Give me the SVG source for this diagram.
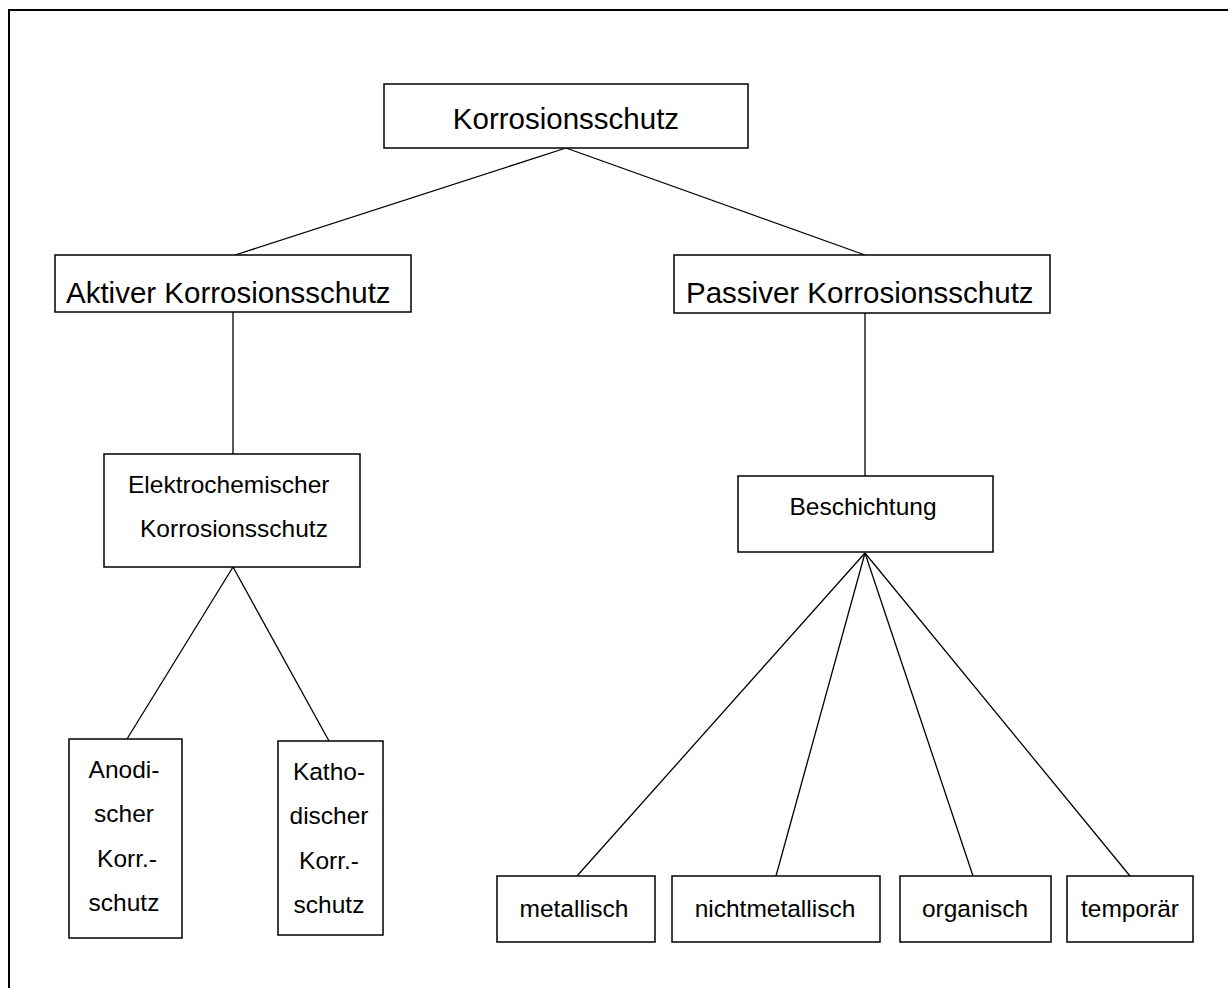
<svg xmlns="http://www.w3.org/2000/svg" width="1228" height="988" viewBox="0 0 1228 988">
<style>
.box{fill:#fff;stroke:#000;stroke-width:1.5}
.lg{font-family:"Liberation Sans",Arial,sans-serif;font-size:29.5px;fill:#000}
.sm{font-family:"Liberation Sans",Arial,sans-serif;font-size:24.5px;fill:#000}
.c{text-anchor:middle}
.ln{stroke:#000;stroke-width:1.3;fill:none}
</style>
<rect x="0" y="0" width="1228" height="988" fill="#fff"/>
<path d="M9 988 V10 H1228" fill="none" stroke="#000" stroke-width="2"/>
<g id="connectors">
<line class="ln" x1="566" y1="148" x2="235" y2="255"/>
<line class="ln" x1="566" y1="148" x2="865" y2="255"/>
<line class="ln" x1="233" y1="312" x2="233" y2="454"/>
<line class="ln" x1="865" y1="313" x2="865" y2="476"/>
<line class="ln" x1="233" y1="567" x2="127" y2="739"/>
<line class="ln" x1="233" y1="567" x2="329" y2="741"/>
<line class="ln" x1="865" y1="553" x2="577" y2="876"/>
<line class="ln" x1="865" y1="553" x2="776" y2="876"/>
<line class="ln" x1="865" y1="553" x2="973" y2="876"/>
<line class="ln" x1="865" y1="553" x2="1130" y2="876"/>
</g>
<g id="korrosionsschutz">
<rect class="box" x="384" y="84" width="364" height="64"/>
<text class="lg c" x="566" y="129">Korrosionsschutz</text>
</g>
<g id="aktiver">
<rect class="box" x="55" y="255" width="356" height="57"/>
<text class="lg" x="66" y="303">Aktiver Korrosionsschutz</text>
</g>
<g id="passiver">
<rect class="box" x="674" y="255" width="376" height="58"/>
<text class="lg" x="686" y="303">Passiver Korrosionsschutz</text>
</g>
<g id="elektrochemischer">
<rect class="box" x="104" y="454" width="256" height="113"/>
<text class="sm" x="128" y="493">Elektrochemischer</text>
<text class="sm" x="140" y="537">Korrosionsschutz</text>
</g>
<g id="beschichtung">
<rect class="box" x="738" y="476" width="255" height="76"/>
<text class="sm c" x="863" y="515">Beschichtung</text>
</g>
<g id="anodischer">
<rect class="box" x="69" y="739" width="113" height="199"/>
<text class="sm c" x="124" y="778">Anodi-</text>
<text class="sm c" x="124" y="822">scher</text>
<text class="sm c" x="127" y="867">Korr.-</text>
<text class="sm c" x="124" y="911">schutz</text>
</g>
<g id="kathodischer">
<rect class="box" x="278" y="741" width="105" height="194"/>
<text class="sm c" x="329" y="780">Katho-</text>
<text class="sm c" x="329" y="824">discher</text>
<text class="sm c" x="329" y="869">Korr.-</text>
<text class="sm c" x="329" y="913">schutz</text>
</g>
<g id="metallisch">
<rect class="box" x="497" y="876" width="158" height="66"/>
<text class="sm c" x="574" y="917">metallisch</text>
</g>
<g id="nichtmetallisch">
<rect class="box" x="672" y="876" width="208" height="66"/>
<text class="sm c" x="775" y="917">nichtmetallisch</text>
</g>
<g id="organisch">
<rect class="box" x="900" y="876" width="151" height="66"/>
<text class="sm c" x="975" y="917">organisch</text>
</g>
<g id="temporaer">
<rect class="box" x="1067" y="876" width="126" height="66"/>
<text class="sm c" x="1130" y="917">temporär</text>
</g>
</svg>
